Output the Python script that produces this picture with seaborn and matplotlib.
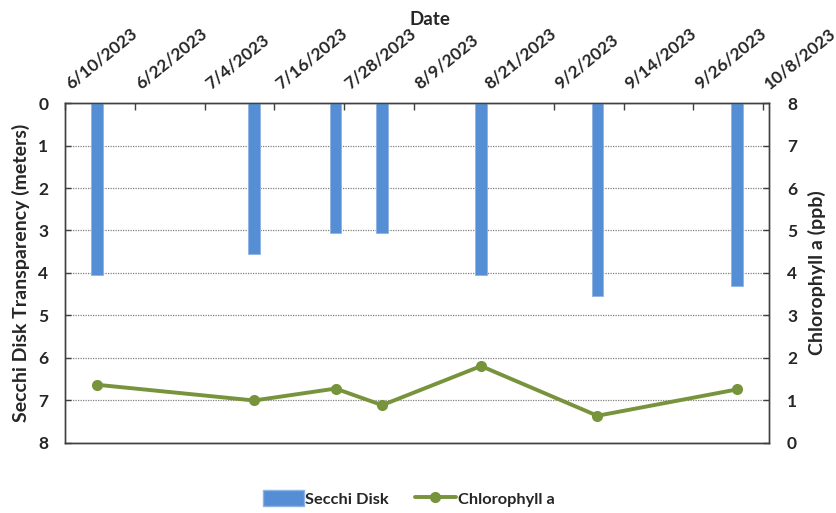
import matplotlib
matplotlib.use("Agg")
import matplotlib.pyplot as plt
import matplotlib.dates as mdates
import matplotlib.transforms as mtransforms
from matplotlib.patches import Patch
from matplotlib.lines import Line2D
import pandas as pd
import seaborn as sns

# Sampling dates and measurements
sample_dates = ["2023-06-15", "2023-07-12", "2023-07-26", "2023-08-03",
                "2023-08-20", "2023-09-09", "2023-10-03"]
secchi_m = [4.05, 3.55, 3.05, 3.05, 4.05, 4.55, 4.3]
chlorophyll_ppb = [1.37, 1.0, 1.28, 0.89, 1.81, 0.64, 1.26]

tick_dates = pd.date_range("2023-06-10", "2023-10-08", freq="12D")
tick_labels = [f"{d.month}/{d.day}/{d.year}" for d in tick_dates]

sns.set_theme(style="white")
plt.rcParams["font.family"] = ["Lato", "DejaVu Sans"]
plt.rcParams["font.weight"] = "bold"

bar_color = "#558ED5"
bar_edge = "#8DB4E2"
line_color = "#77933C"

# each date occupies a one-day slot; marks sit in the middle of it
x = mdates.date2num(pd.to_datetime(sample_dates)) + 0.5
df = pd.DataFrame({"x": x, "secchi": secchi_m, "chl": chlorophyll_ppb})

fig = plt.figure(figsize=(8.37, 5.13), dpi=100)
ax = fig.add_axes([0.0777, 0.1365, 0.8411, 0.6627])

ax.bar(df["x"], df["secchi"], width=2.0, color=bar_color,
       edgecolor=bar_edge, linewidth=0.6, zorder=3)
ax.set_ylim(8, 0)
ax.set_yticks(range(0, 9))
ax.set_xlim(mdates.date2num(pd.Timestamp("2023-06-10")),
            mdates.date2num(pd.Timestamp("2023-10-09")))

ax.yaxis.grid(True, linestyle=(0, (1, 1)), color="#808080", linewidth=0.9)
ax.set_axisbelow(True)

ax.xaxis.tick_top()
ax.xaxis.set_label_position("top")
ax.set_xticks(mdates.date2num(tick_dates))
ax.set_xticklabels(tick_labels, rotation=39, ha="left", va="bottom",
                   rotation_mode="anchor", fontsize=12.5, fontweight="bold")
ax.tick_params(axis="x", direction="in", length=5, width=1, color="#404040", pad=8)
ax.tick_params(axis="y", direction="in", length=4, width=1, color="#404040",
               labelsize=12.5, pad=12)
# nudge the slanted date labels so they start just right of their ticks
shift = mtransforms.ScaledTranslation(0.08, 0, fig.dpi_scale_trans)
for lbl in ax.get_xticklabels():
    lbl.set_transform(lbl.get_transform() + shift)
for lbl in ax.get_yticklabels():
    lbl.set_fontweight("bold")
ax.set_xlabel("Date", fontsize=13.5, fontweight="bold")
ax.xaxis.set_label_coords(0.518, 1.229)
ax.set_ylabel("Secchi Disk Transparency (meters)", fontsize=14,
              fontweight="bold", labelpad=6)

for s in ax.spines.values():
    s.set_color("#404040")
    s.set_linewidth(1.0)

ax2 = ax.twinx()
sns.lineplot(data=df, x="x", y="chl", ax=ax2, color=line_color, linewidth=2.8,
             marker="o", markersize=8, markeredgewidth=0, zorder=4)
ax2.set_ylim(0, 8)
ax2.set_yticks(range(0, 9))
ax2.tick_params(axis="y", direction="in", length=4, width=1, color="#404040",
                labelsize=12.5, pad=13)
for lbl in ax2.get_yticklabels():
    lbl.set_fontweight("bold")
ax2.set_ylabel("Chlorophyll a (ppb)", fontsize=14, fontweight="bold", labelpad=8)
ax2.set_xlabel("")
ax2.xaxis.set_visible(False)
for s in ax2.spines.values():
    s.set_color("#404040")
    s.set_linewidth(1.0)

handles = [Patch(facecolor=bar_color, edgecolor=bar_edge, label="Secchi Disk"),
           Line2D([0], [0], color=line_color, linewidth=2.8, marker="o",
                  markersize=7, label="Chlorophyll a")]
fig.legend(handles=handles, loc="center", bbox_to_anchor=(0.488, 0.028), ncol=2,
           frameon=False, fontsize=11.8, handlelength=2.5, handleheight=1.1,
           columnspacing=1.6, handletextpad=0.1)

fig.savefig("out.png", dpi=100)
